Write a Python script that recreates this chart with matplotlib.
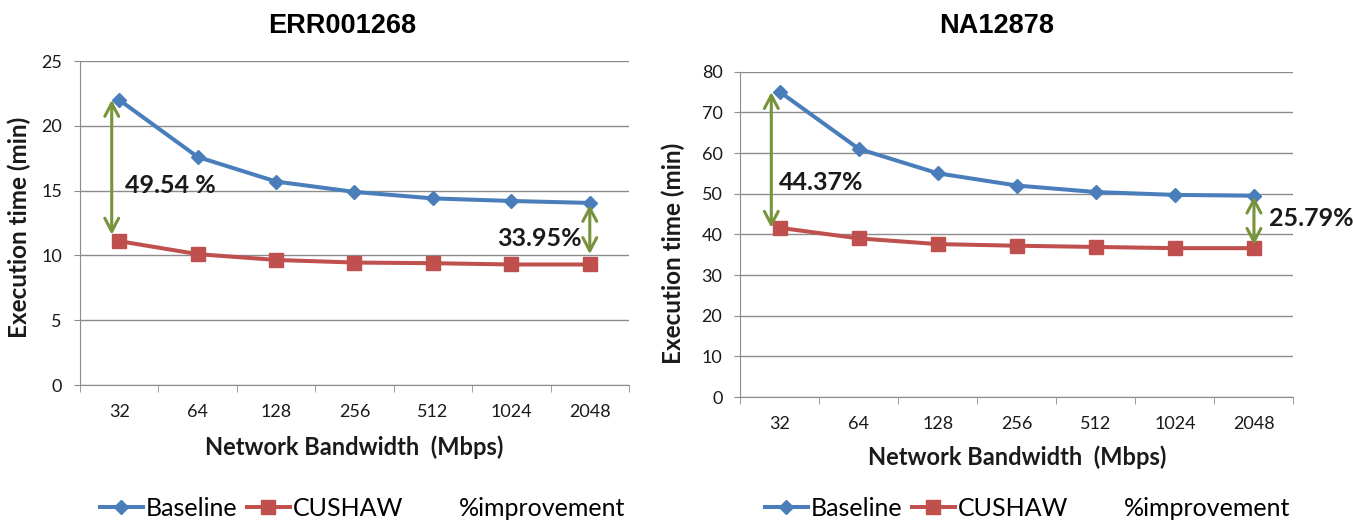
import matplotlib
matplotlib.use("Agg")
import matplotlib.pyplot as plt
from matplotlib.lines import Line2D

plt.rcParams["font.family"] = ["Lato", "DejaVu Sans"]

bandwidth = ["32", "64", "128", "256", "512", "1024", "2048"]

err_baseline = [22.0, 17.6, 15.7, 14.9, 14.4, 14.2, 14.05]
err_cushaw = [11.1, 10.1, 9.65, 9.45, 9.4, 9.3, 9.3]

na_baseline = [75.0, 61.0, 55.0, 52.0, 50.4, 49.7, 49.5]
na_cushaw = [41.6, 39.0, 37.6, 37.2, 36.9, 36.6, 36.6]

BLUE = "#4A7EBB"
RED = "#C0504D"
GREEN = "#77933C"
GRID = "#8C8C8C"
TEXT = "#1a1a1a"


def draw_panel(ax, base, cushaw, ymax, ystep, ylab_xy, xlab_y):
    x = list(range(len(bandwidth)))
    ax.plot(x, base, color=BLUE, lw=2.9, marker="D", ms=7.5, zorder=3)
    ax.plot(x, cushaw, color=RED, lw=2.9, marker="s", ms=10, zorder=3)

    ax.set_xlim(-0.5, len(bandwidth) - 0.5)
    ax.set_ylim(0, ymax)
    ax.set_yticks(range(0, ymax + 1, ystep))
    ax.set_xticks(x)
    ax.set_xticklabels(bandwidth)
    ax.set_xticks([i - 0.5 for i in range(len(bandwidth) + 1)], minor=True)
    ax.tick_params(axis="x", which="major", length=0, pad=14, labelsize=13,
                   labelcolor=TEXT)
    ax.tick_params(axis="x", which="minor", length=5, color=GRID, direction="out")
    ax.tick_params(axis="y", length=4, color=GRID, labelsize=13, pad=9,
                   labelcolor=TEXT)

    ax.yaxis.grid(True, color=GRID, lw=1)
    ax.set_axisbelow(True)
    for side in ("top", "right"):
        ax.spines[side].set_visible(False)
    for side in ("left", "bottom"):
        ax.spines[side].set_color(GRID)

    ax.set_xlabel("Network Bandwidth  (Mbps)", fontsize=17, fontweight="bold",
                  color=TEXT, va="center")
    ax.set_ylabel("Execution time (min)", fontsize=17.5, fontweight="bold",
                  color=TEXT, va="center")
    ax.xaxis.set_label_coords(0.5, xlab_y)
    ax.yaxis.set_label_coords(*ylab_xy)


arrow = dict(arrowstyle="<->,head_length=0.95,head_width=0.5", color=GREEN,
             lw=2.2, shrinkA=0, shrinkB=0)
pct_style = dict(fontsize=18, fontweight="bold", va="center", color=TEXT)

fig = plt.figure(figsize=(13.53, 5.21), dpi=100)
ax1 = fig.add_axes([0.0591, 0.2610, 0.4058, 0.6219])
ax2 = fig.add_axes([0.5473, 0.2380, 0.4087, 0.6244])

draw_panel(ax1, err_baseline, err_cushaw, 25, 5, (-0.111, 0.485), -0.191)
ax1.annotate("", xy=(-0.095, 22.0), xytext=(-0.095, 11.6), arrowprops=arrow)
ax1.annotate("", xy=(6, 13.9), xytext=(6, 10.1), arrowprops=arrow)
ax1.text(0.074, 15.4, "49.54 %", ha="left", **pct_style)
ax1.text(5.90, 11.3, "33.95%", ha="right", **pct_style)

draw_panel(ax2, na_baseline, na_cushaw, 80, 10, (-0.121, 0.44), -0.184)
ax2.annotate("", xy=(-0.11, 75.0), xytext=(-0.11, 41.6), arrowprops=arrow)
ax2.annotate("", xy=(6, 49.3), xytext=(6, 37.4), arrowprops=arrow)
ax2.text(-0.013, 52.7, "44.37%", ha="left", **pct_style)
ax2.text(6.19, 43.8, "25.79%", ha="left", **pct_style)

title_style = dict(fontsize=19.5, fontweight="bold", ha="center", va="center",
                   family=["Liberation Sans", "DejaVu Sans"])
fig.text(342 / 1353, 1 - 26 / 521, "ERR001268", **title_style)
fig.text(997 / 1353, 1 - 26 / 521, "NA12878", **title_style)

handles = [
    Line2D([], [], color=BLUE, lw=2.9, marker="D", ms=7.5),
    Line2D([], [], color=RED, lw=2.9, marker="s", ms=10),
    Line2D([], [], color="none"),
]
labels = ["Baseline", "CUSHAW", "%improvement"]
for lx in (100 / 1353, 765 / 1353):
    fig.legend(handles, labels, loc="center left", bbox_to_anchor=(lx, 1 - 508 / 521),
               ncol=3, frameon=False, fontsize=18, handlelength=1.7,
               handletextpad=0.12, columnspacing=0.4, borderpad=0,
               borderaxespad=0)

fig.savefig("out.png", dpi=100)
